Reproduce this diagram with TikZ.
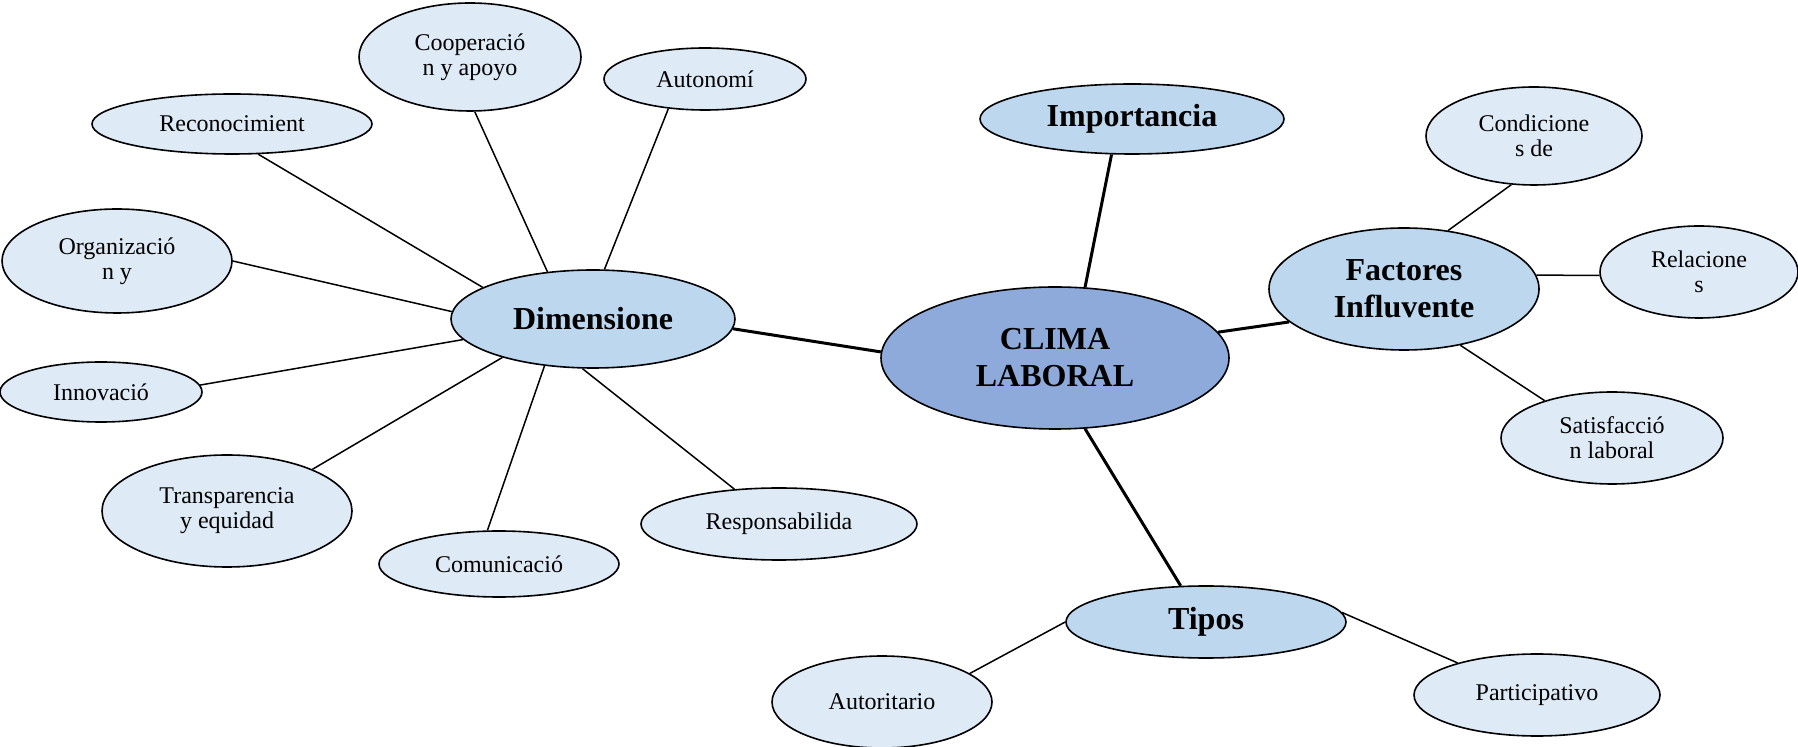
\documentclass[tikz,border=0pt]{standalone}
\usepackage{fontspec}
\setmainfont{Liberation Serif}
\usetikzlibrary{shapes.geometric}
\definecolor{leafblue}{HTML}{DEEAF6}
\definecolor{hubblue}{HTML}{BDD7EE}
\definecolor{coreblue}{HTML}{8EAADB}
\begin{document}
\begin{tikzpicture}[x=0.5pt, y=-0.5pt,
  leaf/.style = {ellipse, draw, line width=0.8pt, fill=leafblue, inner sep=0pt, align=center, font=\fontsize{12}{12.5}\selectfont},
  hub/.style = {ellipse, draw, line width=0.8pt, fill=hubblue, inner sep=0pt, align=center, font=\bfseries\fontsize{16}{18.5}\selectfont},
  thin/.style = {line width=0.75pt},
  thick/.style = {line width=1.5pt}]
\useasboundingbox (0,0) rectangle (1798,747);
% centre and hubs
\node [hub, fill=coreblue, minimum width=174pt, minimum height=71pt] (clima) at (1055,358) {CLIMA\\LABORAL};
\node [hub, minimum width=142pt, minimum height=49pt] (dim) at (593,319) {Dimensione};
\node [hub, minimum width=152pt, minimum height=35pt] (imp) at (1132,119) {Importancia};
\node [hub, minimum width=135pt, minimum height=61pt] (fac) at (1404,289) {Factores\\Influvente};
\node [hub, minimum width=140pt, minimum height=36pt] (tipos) at (1206,622) {Tipos};
% dimensiones
\node [leaf, minimum width=111pt, minimum height=54pt] (coop) at (470,57) {Cooperació\\n y apoyo};
\node [leaf, minimum width=101pt, minimum height=31pt] (auto) at (705,79) {Autonomí};
\node [leaf, minimum width=140pt, minimum height=30pt] (reco) at (232,124) {Reconocimient};
\node [leaf, minimum width=115pt, minimum height=52pt] (orga) at (117,261) {Organizació\\n y};
\node [leaf, minimum width=101pt, minimum height=30pt] (inno) at (101,392) {Innovació};
\node [leaf, minimum width=125pt, minimum height=56pt] (tran) at (227,511) {Transparencia\\y equidad};
\node [leaf, minimum width=120pt, minimum height=33pt] (comu) at (499,564) {Comunicació};
\node [leaf, minimum width=138pt, minimum height=36pt] (resp) at (779,524) {Responsabilida};
% factores
\node [leaf, minimum width=108pt, minimum height=49pt] (cond) at (1534,136) {Condicione\\s de};
\node [leaf, minimum width=99pt, minimum height=46pt] (rela) at (1699,272) {Relacione\\s};
\node [leaf, minimum width=111pt, minimum height=46pt] (sati) at (1612,438) {Satisfacció\\n laboral};
% tipos
\node [leaf, minimum width=110pt, minimum height=46pt] (autor) at (882,702) {Autoritario};
\node [leaf, minimum width=123pt, minimum height=41pt] (part) at (1537,695) {Participativo};
% connectors
\draw [thick] (clima.178) -- (dim.356);
\draw [thick] (clima.67) -- (imp.240);
\draw [thick] (clima.9) -- (fac.196);
\draw [thick] (clima.293) -- (tipos.125);
\foreach \a/\n/\b in {134/coop/275, 77/auto/219, 164/reco/311, 177/orga/0,
                      189/inno/4, 203/tran/26, 224/comu/109, 258/resp/142}
  \draw [thin] (dim.\a) -- (\n.\b);
\foreach \a/\n/\b in {53/cond/245, 6/rela/182, 315/sati/151}
  \draw [thin] (fac.\a) -- (\n.\b);
\draw [thin] (tipos.180) -- (autor.18);
\draw [thin] (tipos.4) -- (part.158);
\end{tikzpicture}
\end{document}
